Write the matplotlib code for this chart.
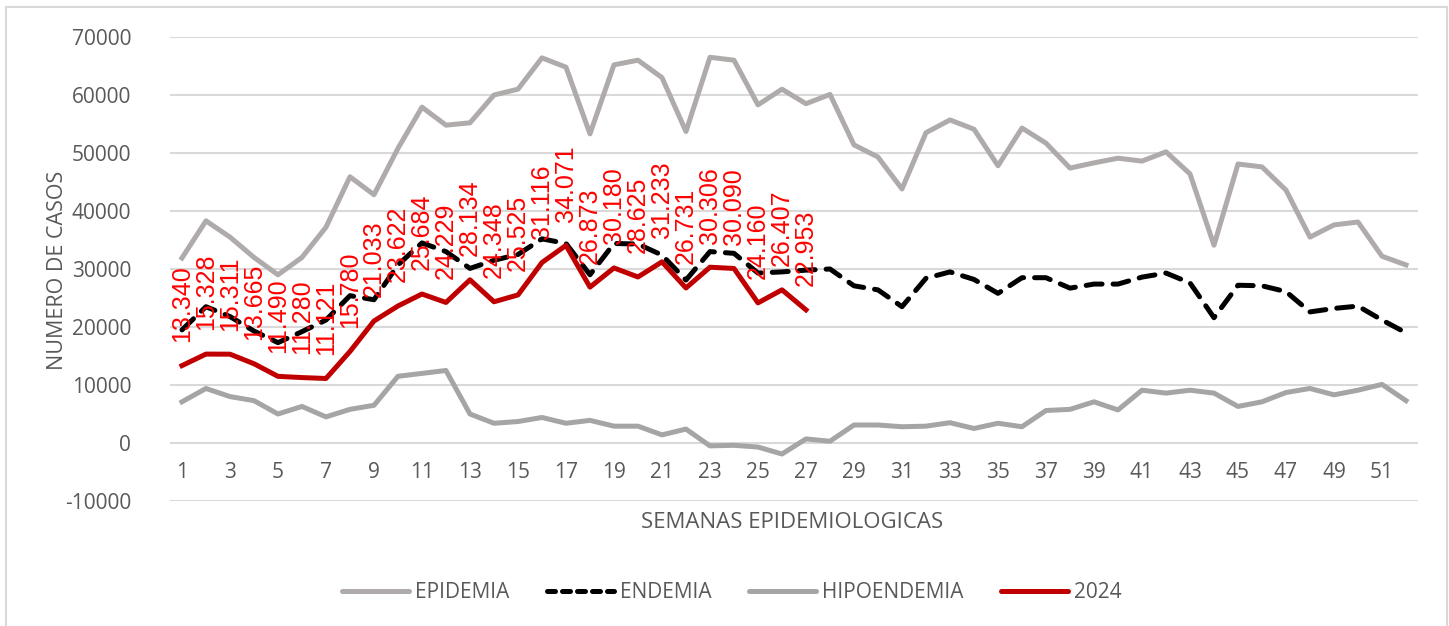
import numpy as np
import matplotlib.pyplot as plt
from matplotlib.lines import Line2D

weeks = np.arange(1, 53)

epidemia = [31900, 38300, 35500, 32000, 29000, 32000, 37200, 45900, 42800, 50800,
            57900, 54800, 55200, 60000, 61000, 66400, 64800, 53300, 65200, 66000,
            63000, 53700, 66500, 66000, 58300, 61000, 58500, 60100, 51400, 49300,
            43800, 53500, 55700, 54100, 47800, 54300, 51700, 47400, 48300, 49100,
            48600, 50200, 46400, 34100, 48100, 47600, 43600, 35500, 37600, 38100,
            32200, 30700]

endemia = [19500, 23500, 21800, 19300, 17300, 19200, 21200, 25400, 24700, 30700,
           34500, 33000, 30100, 31500, 32500, 35200, 34400, 29000, 34400, 34300,
           32400, 28100, 33000, 32700, 29300, 29500, 29800, 30000, 27100, 26400,
           23500, 28400, 29500, 28200, 25800, 28500, 28500, 26700, 27400, 27400,
           28600, 29300, 27600, 21600, 27200, 27100, 26100, 22600, 23200, 23600,
           21200, 19000]

hipoendemia = [7100, 9400, 8000, 7300, 5000, 6300, 4500, 5800, 6500, 11500,
               12000, 12500, 5000, 3400, 3700, 4400, 3400, 3900, 2900, 2900,
               1400, 2400, -500, -400, -700, -1900, 700, 300, 3100, 3100,
               2800, 2900, 3500, 2500, 3400, 2800, 5600, 5800, 7100, 5700,
               9100, 8600, 9100, 8600, 6300, 7100, 8700, 9400, 8300, 9100,
               10100, 7300]

casos_2024 = [13340, 15328, 15311, 13665, 11490, 11280, 11121, 15780, 21033, 23622,
              25684, 24229, 28134, 24348, 25525, 31116, 34071, 26873, 30180, 28625,
              31233, 26731, 30306, 30090, 24160, 26407, 22953]

y_ticks = list(range(-10000, 70001, 10000))
x_ticks = list(range(1, 52, 2))

TXT = '#595959'
plt.rcParams['font.family'] = ['Open Sans', 'DejaVu Sans']

fig = plt.figure(figsize=(14.49, 6.26), dpi=100)
ax = fig.add_axes([0.1173, 0.1997, 0.8613, 0.7412])

ax.plot(weeks, epidemia, color='#AFABAB', lw=3.6, solid_joinstyle='round', label='EPIDEMIA')
ax.plot(weeks, endemia, color='black', lw=3.6, dashes=(3.2, 2.2),
        dash_capstyle='round', label='ENDEMIA')
ax.plot(weeks, hipoendemia, color='#A5A5A5', lw=3.6, solid_joinstyle='round', label='HIPOENDEMIA')
w24 = weeks[:len(casos_2024)]
ax.plot(w24, casos_2024, color='#C00000', lw=3.6, solid_joinstyle='round', label='2024')

# rotated data labels, thousands separated with a dot
for x, v in zip(w24, casos_2024):
    s = f'{v:,}'.replace(',', '.')
    ax.annotate(s, (x, v), xytext=(0, 17), textcoords='offset points',
                rotation=90, ha='center', va='bottom', color='#FF0000',
                fontsize=18, family=['Liberation Sans', 'DejaVu Sans'])

ax.set_xlim(0.5, 52.5)
ax.set_ylim(-10000, 70000)
ax.set_yticks(y_ticks)
ax.set_xticks(x_ticks)
ax.set_yticklabels([str(t) for t in y_ticks])
ax.grid(axis='y', color='#D9D9D9', lw=1.5)
ax.set_axisbelow(True)
for s in ['top', 'right', 'left']:
    ax.spines[s].set_visible(False)
ax.spines['bottom'].set_position(('data', 0))
ax.spines['bottom'].set_visible(False)
ax.tick_params(length=0, labelsize=15, labelcolor=TXT)
ax.tick_params(axis='x', pad=14)
ax.tick_params(axis='y', pad=28)

fig.text(0.547, 0.166, 'SEMANAS EPIDEMIOLOGICAS', ha='center', va='center',
         fontsize=16, color=TXT)
fig.text(0.040, 0.568, 'NUMERO DE CASOS', ha='center', va='center',
         rotation=90, fontsize=15.5, color=TXT)

handles = [Line2D([], [], color='#AFABAB', lw=3.6, solid_capstyle='round'),
           Line2D([], [], color='black', lw=3.6, dashes=(1.6, 1.4), dash_capstyle='round'),
           Line2D([], [], color='#A5A5A5', lw=3.6, solid_capstyle='round'),
           Line2D([], [], color='#C00000', lw=3.6, solid_capstyle='round')]
leg = fig.legend(handles, ['EPIDEMIA', 'ENDEMIA', 'HIPOENDEMIA', '2024'],
                 loc='center', bbox_to_anchor=(0.505, 0.053), ncol=4, frameon=False,
                 fontsize=15, handlelength=3.2, handletextpad=0.3, columnspacing=1.8)
for t in leg.get_texts():
    t.set_color(TXT)

# outer chart frame
fig.add_artist(plt.Rectangle((6 / 1449, -0.05), 1441 / 1449, 1.05 - 7 / 626,
                             transform=fig.transFigure, fill=False,
                             edgecolor='#D9D9D9', lw=1.5))

fig.savefig('out.png', dpi=100)
